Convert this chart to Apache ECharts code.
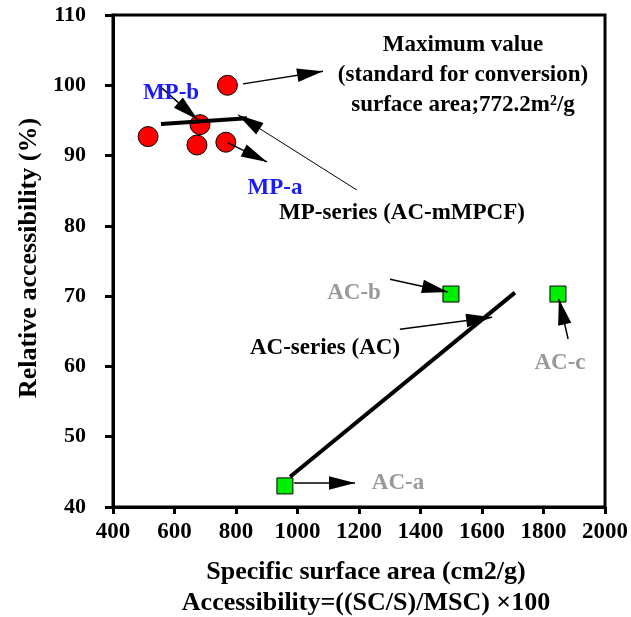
<!DOCTYPE html>
<html>
<head>
<meta charset="utf-8">
<script src="https://cdn.jsdelivr.net/npm/echarts@6/dist/echarts.min.js"></script>
<style>html,body{margin:0;padding:0;background:#fff}#c{width:631px;height:617px}</style>
</head>
<body>
<div id="c"></div>
<script>
// ---- data ----
var mpX = [772.2, 683, 514, 673, 767];
var mpY = [100, 94.4, 92.7, 91.5, 91.9];
var acX = [959, 1499, 1847];
var acY = [43, 70.3, 70.3];
var mpFitX = [556, 836];
var mpFitY = [94.5, 95.3];
var acFitX = [976, 1707];
var acFitY = [44.3, 70.5];
var xTicks = [400, 600, 800, 1000, 1200, 1400, 1600, 1800, 2000];
var yTicks = [40, 50, 60, 70, 80, 90, 100, 110];
// arrows: [x1, y1, x2, y2] in data units (arrow tip at second point)
var arrowMax = [823, 100.2, 1083, 102];
var arrowMPb = [559, 99.6, 676, 95.1];
var arrowMPa = [774, 91.8, 901, 89.1];
var arrowMPs = [1193, 85.1, 806, 95.8];
var arrowACb = [1301, 72.4, 1489, 70.6];
var arrowACs = [1333, 65.3, 1633, 67.0];
var arrowACa = [989, 43.4, 1187, 43.4];
var arrowACc = [1880, 63.9, 1850, 69.6];

function pairs(xs, ys) { return xs.map(function (x, i) { return [x, ys[i]]; }); }
function arrow(a, w) { return { coords: [[a[0], a[1]], [a[2], a[3]]], lineStyle: { width: w } }; }

// arrow head whose tip sits at the symbol centre
var HEAD = 'path://M0,0 M20,0 M0,20 M20,20 M10,10 L12.6,20 L7.4,20 Z';

var FONT = "'Liberation Serif','Times New Roman',serif";
var chart = echarts.init(document.getElementById('c'), null, { renderer: 'canvas' });

function txt(s, x, y, color, size, rot) {
  return {
    type: 'text', x: x, y: y, rotation: rot || 0, z: 100,
    style: { text: s, fill: color, font: 'bold ' + (size || 23) + 'px ' + FONT, align: 'center', verticalAlign: 'middle' }
  };
}

chart.setOption({
  animation: false,
  grid: { left: 113, right: 26, top: 15, bottom: 110, show: true, borderColor: '#000', borderWidth: 3, backgroundColor: 'transparent' },
  xAxis: {
    type: 'value', min: xTicks[0], max: xTicks[xTicks.length - 1], interval: 200,
    axisLine: { onZero: false, lineStyle: { color: '#000', width: 3 } },
    axisTick: { show: true, inside: false, length: 7, lineStyle: { color: '#000', width: 3 } },
    axisLabel: { color: '#000', fontFamily: FONT, fontWeight: 'bold', fontSize: 23, margin: 14,
      formatter: function (v) { return String(v); } },
    splitLine: { show: false }
  },
  yAxis: {
    type: 'value', min: yTicks[0], max: yTicks[yTicks.length - 1], interval: 10,
    axisLine: { onZero: false, lineStyle: { color: '#000', width: 3 } },
    axisTick: { show: true, inside: false, length: 8, lineStyle: { color: '#000', width: 3 } },
    axisLabel: { color: '#000', fontFamily: FONT, fontWeight: 'bold', fontSize: 22, margin: 27,
      formatter: function (v) { return String(v); } },
    splitLine: { show: false }
  },
  series: [
    { type: 'scatter', data: pairs(mpX, mpY), symbol: 'circle', symbolSize: 20, z: 2,
      itemStyle: { color: '#ff0000', borderColor: '#000', borderWidth: 1, opacity: 1 } },
    { type: 'scatter', data: pairs(acX, acY), symbol: 'rect', symbolSize: 16, z: 2,
      itemStyle: { color: '#00ee00', borderColor: '#000', borderWidth: 1, opacity: 1 } },
    { type: 'line', data: pairs(mpFitX, mpFitY), showSymbol: false, symbol: 'none', z: 3,
      lineStyle: { color: '#000', width: 4 } },
    { type: 'line', data: pairs(acFitX, acFitY), showSymbol: false, symbol: 'none', z: 3,
      lineStyle: { color: '#000', width: 4 } },
    { type: 'lines', coordinateSystem: 'cartesian2d', z: 4,
      symbol: ['none', HEAD], symbolSize: 52,
      lineStyle: { color: '#000', width: 1.5, opacity: 1, curveness: 0 },
      itemStyle: { color: '#000' },
      data: [arrow(arrowMax, 1.5), arrow(arrowMPb, 1.5), arrow(arrowMPa, 1.5), arrow(arrowMPs, 1),
             arrow(arrowACb, 1.5), arrow(arrowACs, 1.5), arrow(arrowACa, 1.5), arrow(arrowACc, 1.5)] }
  ],
  graphic: [
    txt('Maximum value', 463, 45, '#000'),
    txt('(standard for conversion)', 463, 75, '#000'),
    txt('surface area;772.2m\u00b2/g', 463, 105, '#000'),
    txt('MP-b', 171, 93, '#1a1aff'),
    txt('MP-a', 275, 188, '#1a1aff'),
    txt('MP-series (AC-mMPCF)', 402, 213, '#000'),
    txt('AC-b', 354, 293, '#999999'),
    txt('AC-series (AC)', 325, 348, '#000'),
    txt('AC-c', 560, 363, '#999999'),
    txt('AC-a', 398, 483, '#999999'),
    txt('Specific surface area (cm2/g)', 366, 572, '#000', 26),
    txt('Accessibility=((SC/S)/MSC) \u00d7100', 366, 603, '#000', 26),
    txt('Relative accessibility (%)', 29, 258, '#000', 26, Math.PI / 2)
  ]
});
</script>
</body>
</html>
